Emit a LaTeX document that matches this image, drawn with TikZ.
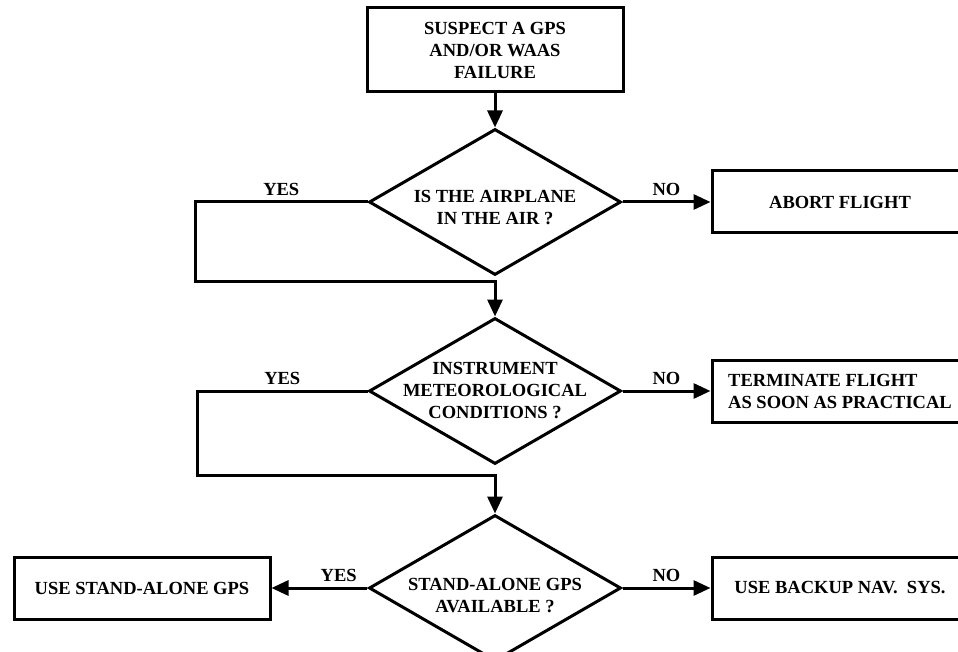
\documentclass[tikz,border=0pt]{standalone}
\usepackage{fontspec}
\setmainfont{Liberation Serif}
\usetikzlibrary{arrows.meta,shapes.geometric,positioning}

\begin{document}
\begin{tikzpicture}[x=1pt,y=-1pt,
  every node/.style={font=\bfseries\fontsize{18.5}{22}\selectfont},
  stepbox/.style={draw,rectangle,line width=3pt,minimum width=256pt,
    minimum height=62pt,align=center},
  decision/.style={draw,diamond,line width=3pt,minimum width=252pt,
    minimum height=146pt,inner sep=0pt},
  qtext/.style={align=center},
  arrow/.style={-{Triangle[length=17pt,width=15pt]},line width=3pt},
  lbl/.style={above,inner sep=5pt}]

  \useasboundingbox (0,0) rectangle (958,652);

  \node[stepbox,minimum height=84pt] (suspect) at (495,50)
    {SUSPECT A GPS\\AND/OR WAAS\\FAILURE};
  \node[decision] (air) [below=34pt of suspect] {};
  \node[qtext,yshift=-6pt] (airtext) at (air) {IS THE AIRPLANE\\IN THE AIR ?};
  \node[stepbox] (abort) [right=88pt of air] {ABORT FLIGHT};

  \node[decision] (imc) [below=40pt of air] {};
  \node[qtext] (imctext) at (imc) {INSTRUMENT\\METEOROLOGICAL\\CONDITIONS ?};
  \node[stepbox,align=left] (term) [right=88pt of imc]
    {TERMINATE FLIGHT\\AS SOON AS PRACTICAL};

  \node[decision] (gps) [below=48pt of imc] {};
  \node[qtext,yshift=-8pt] (gpstext) at (gps) {STAND-ALONE GPS\\AVAILABLE ?};
  \node[stepbox] (standalone) [left=96pt of gps] {USE STAND-ALONE GPS};
  \node[stepbox] (backup) [right=88pt of gps] {USE BACKUP NAV.\ \ SYS.};

  \coordinate (yes1) at (195,282);
  \coordinate (yes2) at (197,475);

  \draw[arrow] (suspect) -- (air);
  \draw[arrow] (air) -- node[lbl] (noa) {NO} (abort);
  \draw[arrow] (air.west) -| node[lbl,pos=0.25] (yesa) {YES} (yes1) -| (imc.north);
  \draw[arrow] (imc) -- node[lbl] (nob) {NO} (term);
  \draw[arrow] (imc.west) -| node[lbl,pos=0.25] (yesb) {YES} (yes2) -| (gps.north);
  \draw[arrow] (gps) -- node[lbl,pos=0.3] (yesc) {YES} (standalone);
  \draw[arrow] (gps) -- node[lbl] (noc) {NO} (backup);
\end{tikzpicture}
\end{document}
